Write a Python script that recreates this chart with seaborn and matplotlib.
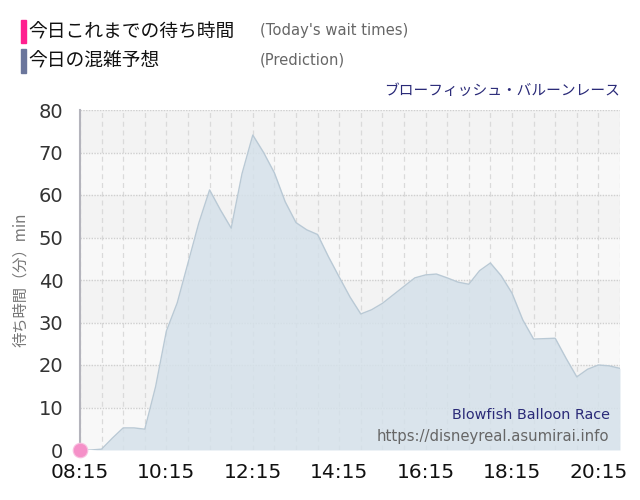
import matplotlib
matplotlib.use("Agg")
import matplotlib.pyplot as plt
import seaborn as sns
import pandas as pd
import numpy as np
from matplotlib.patches import Rectangle

# ---- data ----
times = ["08:15", "08:30", "08:45", "09:00", "09:15", "09:30", "09:45", "10:00",
         "10:15", "10:30", "10:45", "11:00", "11:15", "11:30", "11:45", "12:00",
         "12:15", "12:30", "12:45", "13:00", "13:15", "13:30", "13:45", "14:00",
         "14:15", "14:30", "14:45", "15:00", "15:15", "15:30", "15:45", "16:00",
         "16:15", "16:30", "16:45", "17:00", "17:15", "17:30", "17:45", "18:00",
         "18:15", "18:30", "18:45", "19:00", "19:15", "19:30", "19:45", "20:00",
         "20:15", "20:30", "20:45"]
prediction = [0, 0, 0.2, 2.8, 5.2, 5.2, 4.9, 14.9,
              28, 34.6, 44, 53.4, 61.2, 56.5, 52.2, 65,
              74.1, 70, 65.2, 58.4, 53.5, 51.8, 50.7, 45.5,
              40.7, 36, 32, 33, 34.5, 36.5, 38.5, 40.5,
              41.2, 41.4, 40.5, 39.5, 39, 42.2, 44, 41,
              36.9, 30.6, 26.1, 26.2, 26.3, 21.6, 17.2, 19,
              20, 19.8, 19.2]
actual_times = ["08:15"]
actual_values = [0]
tick_labels = ["08:15", "10:15", "12:15", "14:15", "16:15", "18:15", "20:15"]

def to_h(s):
    h, m = s.split(":")
    return int(h) + int(m) / 60

df = pd.DataFrame({"t": [to_h(s) for s in times], "wait": prediction})
dfa = pd.DataFrame({"t": [to_h(s) for s in actual_times], "wait": actual_values})

sns.set_theme(style="white")
plt.rcParams['font.family'] = ['Noto Sans CJK JP', 'DejaVu Sans']

fig = plt.figure(figsize=(6.4, 5), dpi=100)
ax = fig.add_axes([80/640, 50/500, 540/640, 340/500])

x0, x1 = to_h("08:15"), to_h("20:45")
# background bands
for i in range(8):
    ax.axhspan(i*10, (i+1)*10, color="#f3f3f3" if i % 2 == 1 else "#f8f8f8",
               zorder=0, lw=0)
# vertical gridlines every 30 minutes
t = x0
while t <= x1 + 1e-6:
    ax.axvline(t, color="#dadada", lw=0.9, ls=(0, (4, 3)), zorder=1)
    t += 0.5
for y in range(10, 81, 10):
    ax.axhline(y, color="#cfcfcf", lw=1.0, ls=(0, (1, 1)), zorder=1)

ax.fill_between(df["t"], df["wait"], 0, color="#d5e1ea", alpha=0.85, zorder=2, lw=0)
sns.lineplot(data=df, x="t", y="wait", ax=ax, color="#b9c9d5", lw=1.0, zorder=3)
sns.scatterplot(data=dfa, x="t", y="wait", ax=ax, color="#f590c8", s=110,
                edgecolor="#f8c0e0", linewidth=0.8, zorder=5, clip_on=False)

ax.set_xlim(x0, x1)
ax.set_ylim(0, 80)
ax.set_xticks([to_h(s) for s in tick_labels])
ax.set_xticklabels(tick_labels, fontsize=14.5, color="#111111", family="DejaVu Sans")
ax.set_yticks(range(0, 81, 10))
ax.set_yticklabels([str(v) for v in range(0, 81, 10)], fontsize=14,
                   color="#333333", family="DejaVu Sans")
ax.tick_params(axis="x", length=0, pad=9)
ax.tick_params(axis="y", length=0, pad=12)
ax.set_xlabel("")
ax.set_ylabel("待ち時間（分）min", fontsize=11, color="#777777", labelpad=7)
for s in ["top", "right", "bottom"]:
    ax.spines[s].set_visible(False)
ax.spines["left"].set_color("#b4b4bc")
ax.spines["left"].set_linewidth(1.5)

# legend header
fig.patches.append(Rectangle((21/640, 1-43/500), 5/640, 23/500, transform=fig.transFigure,
                             color="#ff1f8f", figure=fig))
fig.patches.append(Rectangle((21/640, 1-73/500), 5/640, 24/500, transform=fig.transFigure,
                             color="#6b769c", figure=fig))
fig.text(28/640, 1-32/500, "今日これまでの待ち時間", fontsize=13.5, color="#111111", va="center")
fig.text(28/640, 1-61/500, "今日の混雑予想", fontsize=13.5, color="#111111", va="center")
fig.text(260/640, 1-31/500, "(Today's wait times)", fontsize=10.6, color="#666666",
         va="center", family="DejaVu Sans")
fig.text(260/640, 1-60/500, "(Prediction)", fontsize=10.6, color="#666666",
         va="center", family="DejaVu Sans")
fig.text(620/640, 1-91/500, "ブローフィッシュ・バルーンレース", fontsize=10.6, color="#2a2a78",
         ha="right", va="center")

ax.text(0.981, 0.103, "Blowfish Balloon Race", transform=ax.transAxes, ha="right",
        va="center", fontsize=10.4, color="#2a2a78", family="DejaVu Sans", zorder=6)
ax.text(0.981, 0.041, "https://disneyreal.asumirai.info", transform=ax.transAxes, ha="right",
        va="center", fontsize=10.7, color="#666666", family="DejaVu Sans", zorder=6)

fig.savefig("out.png", dpi=100)
